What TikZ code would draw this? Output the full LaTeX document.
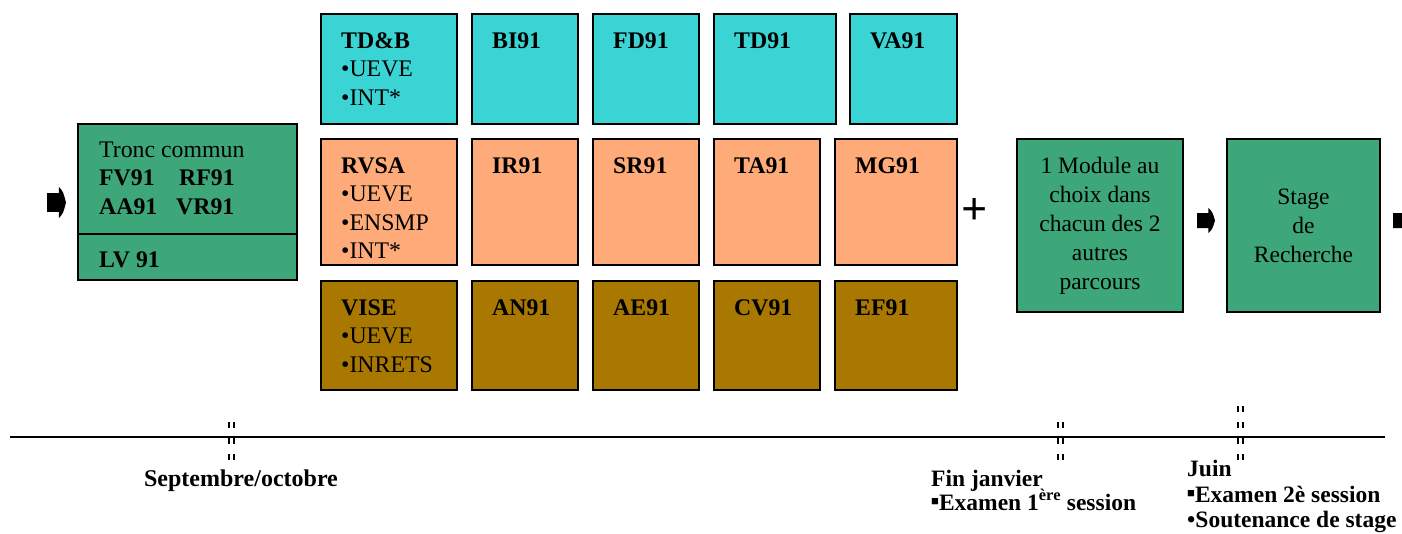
\documentclass[tikz,border=0pt]{standalone}
\usepackage{fontspec}
\setmainfont{Liberation Serif}
\usetikzlibrary{calc}
\definecolor{tdbcyan}{HTML}{3AD4D4}
\definecolor{rvsasalmon}{HTML}{FFAB79}
\definecolor{visebrown}{HTML}{A97800}
\definecolor{commongreen}{HTML}{3DA77A}
% course box: name, x, y (north west), width, height, fill, lines
\newcommand{\coursebox}[7]{%
  \node[boxst, fill=#6, minimum width=#4pt, minimum height=#5pt] (#1) at (#2,#3) {};
  \foreach \ln [count=\i from 0] in {#7}{
    \node[boxtxt] (#1-\i) at ($(#1.north west)+(20,34+28.5*\i)$) {\ln};
  }
}
% fat arrow glyph: left x, top y, width, height
\newcommand{\fatarrow}[4]{%
  \fill ({#1},{#2+0.2*#4}) -- ({#1+0.63*#3},{#2+0.2*#4}) -- ({#1+0.63*#3},{#2})
    .. controls ({#1+0.85*#3},{#2+0.15*#4}) .. ({#1+#3},{#2+0.5*#4})
    .. controls ({#1+0.85*#3},{#2+0.85*#4}) .. ({#1+0.63*#3},{#2+#4})
    -- ({#1+0.63*#3},{#2+0.8*#4}) -- ({#1},{#2+0.8*#4}) -- cycle;
}
\newcommand{\sqbullet}{\raisebox{0.18em}{\fontsize{13}{13}\selectfont■}}

\begin{document}
\begin{tikzpicture}[x=1pt, y=-1pt]
\tikzset{
  boxst/.style={draw=black, line width=2pt, outer sep=0pt, inner sep=0pt, anchor=north west},
  boxtxt/.style={anchor=base west, inner sep=0pt, font=\fontsize{23.8}{28.5}\selectfont},
  greentxt/.style={align=center, font=\fontsize{23.5}{29}\selectfont},
  datetxt/.style={anchor=base west, inner sep=0pt, font=\bfseries\fontsize{23.5}{24}\selectfont},
  timeline/.style={line width=2pt},
  tickst/.style={line width=2pt, dash pattern=on 6pt off 10pt}
}
\useasboundingbox (0,0) rectangle (1402,533);

% tronc commun
\node[boxst, fill=commongreen, minimum width=219pt, minimum height=110pt] (tc) at (78,124) {};
\node[boxst, fill=commongreen, minimum width=219pt, minimum height=46pt] (lv) at (78,234) {};
\node[boxtxt] (tc-t) at ($(tc.north west)+(21,33.5)$) {Tronc commun};
\node[boxtxt] (fv) at ($(tc.north west)+(21,61)$) {\textbf{FV91}};
\node[boxtxt] (rf) at ($(tc.north west)+(101,61)$) {\textbf{RF91}};
\node[boxtxt] (aa) at ($(tc.north west)+(21,90)$) {\textbf{AA91}};
\node[boxtxt] (vr) at ($(tc.north west)+(98,90)$) {\textbf{VR91}};
\node[boxtxt] (lv-t) at ($(lv.north west)+(21,33)$) {\textbf{LV 91}};

% parcours TD&B
\coursebox{tdb}{321}{14}{136}{110}{tdbcyan}{\textbf{TD\&B},•UEVE,•INT*}
\coursebox{bi}{472}{14}{106}{110}{tdbcyan}{\textbf{BI91}}
\coursebox{fd}{593}{14}{106}{110}{tdbcyan}{\textbf{FD91}}
\coursebox{td}{714}{14}{122}{110}{tdbcyan}{\textbf{TD91}}
\coursebox{va}{850}{14}{107}{110}{tdbcyan}{\textbf{VA91}}

% parcours RVSA
\coursebox{rvsa}{321}{139}{136}{126}{rvsasalmon}{\textbf{RVSA},•UEVE,•ENSMP,•INT*}
\coursebox{ir}{472}{139}{106}{126}{rvsasalmon}{\textbf{IR91}}
\coursebox{sr}{593}{139}{106}{126}{rvsasalmon}{\textbf{SR91}}
\coursebox{ta}{714}{139}{106}{126}{rvsasalmon}{\textbf{TA91}}
\coursebox{mg}{835}{139}{122}{126}{rvsasalmon}{\textbf{MG91}}

% parcours VISE
\coursebox{vise}{321}{281}{136}{109}{visebrown}{\textbf{VISE},•UEVE,•INRETS}
\coursebox{an}{472}{281}{106}{109}{visebrown}{\textbf{AN91}}
\coursebox{ae}{593}{281}{106}{109}{visebrown}{\textbf{AE91}}
\coursebox{cv}{714}{281}{106}{109}{visebrown}{\textbf{CV91}}
\coursebox{ef}{835}{281}{122}{109}{visebrown}{\textbf{EF91}}

\node[font=\bfseries\fontsize{46}{46}\selectfont, inner sep=0pt] (plus) at (974.5,212) {+};

% module + stage
\node[boxst, greentxt, fill=commongreen, minimum width=166pt, minimum height=173pt] (module) at (1017,139)
  {1 Module au\\choix dans\\chacun des 2\\autres\\parcours};
\node[boxst, greentxt, fill=commongreen, minimum width=153pt, minimum height=173pt] (stage) at (1227,139)
  {Stage\\de\\Recherche};

% arrows
\fatarrow{47}{187}{19}{31}
\fatarrow{1197}{208}{18}{25}
\fatarrow{1393}{208}{18}{25}

% timeline
\coordinate (tl-l) at (10,437);
\coordinate (tl-r) at (1385,437);
\draw[timeline] (tl-l) -- (tl-r);
\foreach \x/\y in {231/422, 1060/422, 1240/406}{
  \draw[tickst] (\x-2.5,\y) -- (\x-2.5,462);
  \draw[tickst] (\x+2.5,\y) -- (\x+2.5,462);
}

% dates
\node[datetxt, anchor=base, font=\bfseries\fontsize{24}{24}\selectfont] (sept) at (241,486) {Septembre/octobre};
\node[datetxt] (janv) at (931,486) {Fin janvier};
\node[datetxt] (exam1) at (931,510) {\sqbullet Examen 1\textsuperscript{ère} session};
\node[datetxt] (juin) at (1187,476) {Juin};
\node[datetxt] (exam2) at (1187,502) {\sqbullet Examen 2è session};
\node[datetxt] (sout) at (1187,527) {•Soutenance de stage};
\end{tikzpicture}
\end{document}
